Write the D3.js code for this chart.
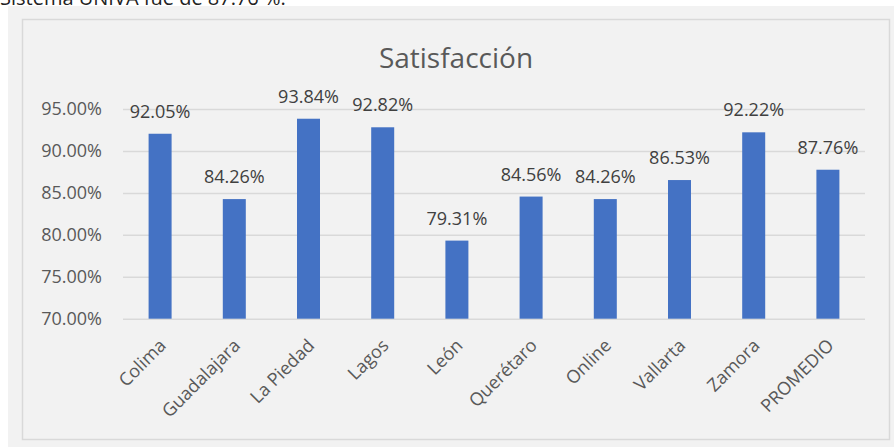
<!DOCTYPE html>
<html>
<head>
<meta charset="utf-8">
<script src="https://cdn.jsdelivr.net/npm/d3@7"></script>
<style>
  html, body { margin: 0; padding: 0; background: #ffffff; }
  svg { display: block; }
  text { font-family: "Open Sans", "Noto Sans", sans-serif; }
</style>
</head>
<body>
<div id="chart"></div>
<script>
// Satisfacción por campus
const categories = ["Colima", "Guadalajara", "La Piedad", "Lagos", "León", "Querétaro", "Online", "Vallarta", "Zamora", "PROMEDIO"];
const satisfaction = [0.9205, 0.8426, 0.9384, 0.9282, 0.7931, 0.8456, 0.8426, 0.8653, 0.9222, 0.8776];
const yTicks = [0.70, 0.75, 0.80, 0.85, 0.90, 0.95];
const chartTitle = "Satisfacción";
const introLine = "Sistema UNIVA fue de 87.76 %.";

const W = 894, H = 447;
const plot = { left: 123, right: 865, top: 109, bottom: 318.7 };

const svg = d3.select("#chart").append("svg")
  .attr("width", W).attr("height", H);

svg.append("rect").attr("width", W).attr("height", H).attr("fill", "#ffffff");

// Trailing line of the preceding paragraph, cut by the chart frame
svg.append("text")
  .attr("x", 0).attr("y", 5)
  .attr("font-size", 20)
  .attr("fill", "#222222")
  .text(introLine);

// Chart frame
svg.append("rect")
  .attr("x", 8).attr("y", 6)
  .attr("width", W - 8).attr("height", H - 6)
  .attr("fill", "#f2f2f2");
svg.append("rect")
  .attr("x", 22.5).attr("y", 19.5)
  .attr("width", 867).attr("height", 420)
  .attr("fill", "none")
  .attr("stroke", "#d9d9d9")
  .attr("stroke-width", 1.5);

const x = d3.scaleBand()
  .domain(categories)
  .range([plot.left, plot.right])
  .paddingInner(0.69)
  .paddingOuter(0.345);

const y = d3.scaleLinear()
  .domain([0.70, 0.95])
  .range([plot.bottom, plot.top]);

// Gridlines and y tick labels
const yAxis = svg.append("g")
  .attr("transform", `translate(${plot.left},0)`)
  .call(d3.axisLeft(y)
    .tickValues(yTicks)
    .tickFormat(d3.format(".2%"))
    .tickSize(-(plot.right - plot.left))
    .tickPadding(21));
yAxis.select(".domain").remove();
yAxis.selectAll(".tick line")
  .attr("stroke", "#d9d9d9")
  .attr("stroke-width", 1.5);
yAxis.selectAll(".tick text")
  .attr("fill", "#595959")
  .attr("font-size", 18)
  .attr("font-family", "'Open Sans', 'Noto Sans', sans-serif");

// Bars
svg.append("g").selectAll("rect")
  .data(categories)
  .join("rect")
  .attr("x", (d) => x(d))
  .attr("width", x.bandwidth())
  .attr("y", (d, i) => y(satisfaction[i]))
  .attr("height", (d, i) => y(0.70) - y(satisfaction[i]))
  .attr("fill", "#4472c4");

// Value labels
const fmt = d3.format(".2%");
svg.append("g").selectAll("text")
  .data(categories)
  .join("text")
  .attr("x", (d) => x(d) + x.bandwidth() / 2)
  .attr("y", (d, i) => y(satisfaction[i]) - 16)
  .attr("text-anchor", "middle")
  .attr("font-size", 18)
  .attr("fill", "#404040")
  .text((d, i) => fmt(satisfaction[i]));

// Category labels, rotated
svg.append("g").selectAll("text")
  .data(categories)
  .join("text")
  .attr("transform", (d) => `translate(${x(d) + x.bandwidth() / 2 + 7},${plot.bottom + 28}) rotate(-45)`)
  .attr("text-anchor", "end")
  .attr("font-size", 18)
  .attr("fill", "#595959")
  .text((d) => d);

// Title
svg.append("text")
  .attr("x", 456)
  .attr("y", 68)
  .attr("text-anchor", "middle")
  .attr("font-size", 28)
  .attr("fill", "#595959")
  .text(chartTitle);
</script>
</body>
</html>
